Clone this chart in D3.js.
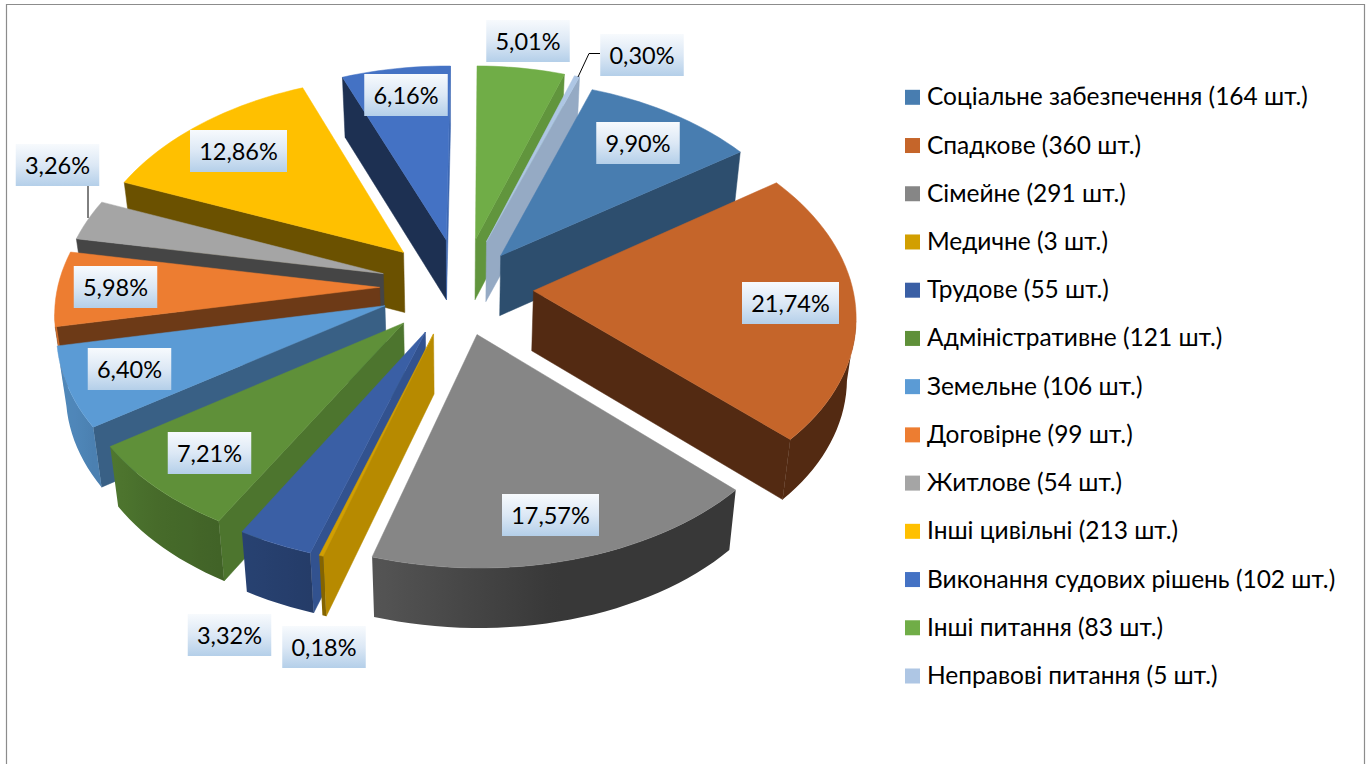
<!DOCTYPE html>
<html><head><meta charset="utf-8">
<style>html,body{margin:0;padding:0;background:#fff;overflow:hidden}svg{display:block}</style>
<script src="https://cdn.jsdelivr.net/npm/d3@7"></script></head><body>
<script>
// ---- data ----
const categories = ["Соціальне забезпечення","Спадкове","Сімейне","Медичне","Трудове","Адміністративне","Земельне","Договірне","Житлове","Інші цивільні","Виконання судових рішень","Інші питання","Неправові питання"];
const counts = [164,360,291,3,55,121,106,99,54,213,102,83,5];
const shareLabels = ["9,90%","21,74%","17,57%","0,18%","3,32%","7,21%","6,40%","5,98%","3,26%","12,86%","6,16%","5,01%","0,30%"];

// ---- styles / layout (separate from data) ----
const colours = ["#487DB0","#C5652A","#868686","#D29F00","#3A5FA5","#5F9039","#5B9BD5","#ED7D31","#A5A5A5","#FFC000","#4472C4","#70AD47","#AEC6E4"];
const labelCentres = [[638,143],[790.5,303],[550.5,515],[324,647],[229.5,635],[209.5,453],[129.5,369],[115.5,287],[57.5,165],[238.5,151],[406,95],[528,41],[642,55]];
const leaders = {8:[[88,186],[88,218]],12:[[600,53.5],[589,53.5],[578,77]]};
// small per-slice explosion adjustments, in pixels
const sliceShiftX = [-2,0,0,0,0,0,0,0,0,0,3,6,5];
const sliceShiftY = [6,0,0,0,0,0,0,0,0,-1,-1,-1,-1];
const W=1367,H=764, cx=457, cy=287, F_LEFT=322, F_RIGHT=319, K=200, PX=0.11, PY=0.10, EXPL=0.24, DEPTH=60, BOTTOM_X=0.977;
const FONT="Lato, 'Open Sans', 'Noto Sans', sans-serif";

const svg=d3.select("body").append("svg").attr("width",W).attr("height",H).attr("viewBox",`0 0 ${W} ${H}`);
const defs=svg.append("defs");
const grad=defs.append("linearGradient").attr("id","lab").attr("x1",0).attr("y1",0).attr("x2",0).attr("y2",1);
[[0,"#F7FAFD"],[0.5,"#DCE8F5"],[1,"#B4CFE9"]].forEach(s=>grad.append("stop").attr("offset",s[0]).attr("stop-color",s[1]));

svg.append("path").attr("d",`M6.5,${H}V4.5H1364.5V${H}`).attr("fill","none").attr("stroke","#8c8c8c").attr("stroke-width",1.2);

// ---- geometry ----
const rad=Math.PI/180;
const START=19.7*rad;
const arcs=d3.pie().sort(null).startAngle(START).endAngle(START+2*Math.PI)(counts);
const project=(X,Y,i)=>[cx+sliceShiftX[i]+(X>0?F_RIGHT:F_LEFT)*X/(1+PX*Y), cy+sliceShiftY[i]-K*Y/(1+PY*Y)];
const lower=p=>[cx+BOTTOM_X*(p[0]-cx), p[1]+DEPTH];
const line=d3.line();
const closed=pts=>line(pts)+"Z";
const side=(p,q,r)=>Math.sign((q[0]-p[0])*(r[1]-p[1])-(q[1]-p[1])*(r[0]-p[0]));
const isVisible=(p,q,outside)=>side(p,q,[p[0],p[1]+DEPTH])!==side(p,q,outside);
const shadeOuter=d3.scaleLinear().domain([0.2,-0.29,-0.67,-0.9]).range([0.42,0.63,0.74,0.87]).clamp(true);
const shadeRadial=nx=>0.42+0.48*Math.pow(Math.max(0,nx),1.5);
const dim=(c,f)=>{const r=d3.rgb(c);return d3.rgb(r.r*f,r.g*f,r.b*f).formatHex();};

const slices=arcs.map((a,i)=>{
  const mid=(a.startAngle+a.endAngle)/2;
  const ex=EXPL*Math.sin(mid), ey=EXPL*Math.cos(mid);
  const n=Math.max(2,Math.ceil((a.endAngle-a.startAngle)/(2*rad)));
  const rim=d3.range(n+1).map(k=>{
    const t=a.startAngle+(a.endAngle-a.startAngle)*k/n;
    return {t,p:project(ex+Math.sin(t),ey+Math.cos(t),i)};
  });
  return {i,a,mid,apex:project(ex,ey,i),rim,depth:Math.cos(mid)};
}).sort((u,v)=>d3.descending(u.depth,v.depth));

const pie=svg.append("g");
slices.forEach(s=>{
  const g=pie.append("g");
  const col=colours[s.i], A=s.rim[0], B=s.rim[s.rim.length-1];
  const wall=(p,q,fill)=>g.append("path").attr("d",closed([p,q,lower(q),lower(p)])).attr("fill",fill).attr("stroke",fill).attr("stroke-width",0.5);
  // radial walls
  if(isVisible(s.apex,A.p,B.p)) wall(s.apex,A.p,dim(col,shadeRadial(-Math.cos(A.t))));
  if(isVisible(s.apex,B.p,A.p)) wall(s.apex,B.p,dim(col,shadeRadial(Math.cos(B.t))));
  // outer wall: one polygon over the visible part of the rim, shaded along x
  const vis=s.rim.filter((r,k)=>{
    const prev=s.rim[k-1], next=s.rim[k+1];
    return (next&&isVisible(r.p,next.p,s.apex))||(prev&&isVisible(prev.p,r.p,s.apex));
  });
  if(vis.length>1){
    const x0=vis[0].p[0], x1=vis[vis.length-1].p[0], id="outer"+s.i;
    const lg=defs.append("linearGradient").attr("id",id).attr("gradientUnits","userSpaceOnUse")
      .attr("x1",x0).attr("y1",0).attr("x2",x1).attr("y2",0);
    vis.forEach(r=>lg.append("stop").attr("offset",Math.max(0,Math.min(1,(r.p[0]-x0)/((x1-x0)||1))))
      .attr("stop-color",dim(col,shadeOuter(Math.sin(r.t)))));
    const top=vis.map(r=>r.p), bot=top.map(lower).reverse();
    g.append("path").attr("d",closed(top.concat(bot))).attr("fill",`url(#${id})`);
  }
  // top face
  g.append("path").attr("d",closed([s.apex,...s.rim.map(r=>r.p)])).attr("fill",col).attr("stroke",col).attr("stroke-width",0.5);
});

// ---- leader lines ----
Object.values(leaders).forEach(pts=>svg.append("path").attr("d",line(pts)).attr("fill","none").attr("stroke","#000").attr("stroke-width",1));

// ---- data labels ----
const LAB_FS=23.5, LAB_H=42;
shareLabels.forEach((t,i)=>{
  const [x,y]=labelCentres[i], w=t.length>5?97:83.5;
  svg.append("rect").attr("x",x-w/2).attr("y",y-LAB_H/2).attr("width",w).attr("height",LAB_H).attr("fill","url(#lab)");
  svg.append("text").attr("x",x).attr("y",y+8.5).attr("text-anchor","middle").attr("font-family",FONT).attr("font-size",LAB_FS).attr("fill","#000").text(t);
});

// ---- legend ----
const legendY=d3.scalePoint().domain(d3.range(categories.length)).range([97.3,676]);
const legend=svg.append("g").selectAll("g").data(categories).join("g").attr("transform",(d,i)=>`translate(905,${legendY(i)})`);
legend.append("rect").attr("x",0).attr("y",-7.5).attr("width",15).attr("height",15).attr("fill",(d,i)=>colours[i]);
legend.append("text").attr("x",22).attr("y",8).attr("font-family",FONT).attr("font-size",24.5).attr("fill","#000")
  .text((d,i)=>`${d} (${counts[i]} шт.)`);
</script></body></html>
